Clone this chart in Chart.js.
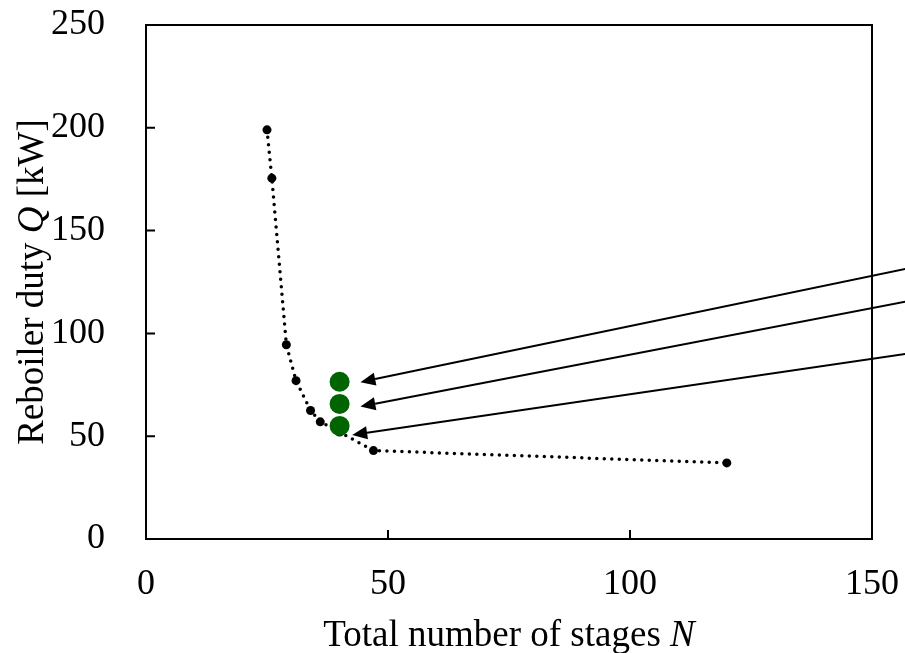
<!DOCTYPE html>
<html>
<head>
<meta charset="utf-8">
<script src="https://cdn.jsdelivr.net/npm/chart.js@4/dist/chart.umd.min.js"></script>
<style>
  html, body { margin: 0; padding: 0; background: #fff; }
  #wrap { width: 905px; height: 653px; }
</style>
</head>
<body>
<div id="wrap"><canvas id="stagesChart" width="905" height="653"></canvas></div>
<script>
// Reboiler duty vs total number of stages
const stagesN = [25, 26, 29, 31, 34, 36, 40, 47, 120];
const dutyQ   = [199, 175.5, 94.5, 77, 62.5, 57, 52, 43, 37];

// Selected designs (green)
const selectedN = [40, 40, 40];
const selectedQ = [76.5, 65.7, 55];

// Arrow tails / heads, in axis units
const arrowTailN = [157, 157, 157];
const arrowTailQ = [131.4, 115.5, 90];
const arrowHeadN = [44.3, 44.3, 42.6];
const arrowHeadQ = [76.3, 64.4, 50.6];

const xTicks = [0, 50, 100, 150];
const yTicks = [0, 50, 100, 150, 200, 250];

const FONT = '"Liberation Serif", "Times New Roman", serif';
const ctx = document.getElementById('stagesChart').getContext('2d');

// frame, inward ticks, mixed-style axis titles and arrows
const framePlugin = {
  id: 'frame',
  afterDatasetsDraw(chart) {
    const c = chart.ctx;
    const a = chart.chartArea;
    const xs = chart.scales.x, ys = chart.scales.y;
    c.save();
    c.strokeStyle = '#000';
    c.lineWidth = 2;
    c.strokeRect(a.left, a.top, a.right - a.left, a.bottom - a.top);
    c.beginPath();
    xTicks.forEach(v => {
      const px = xs.getPixelForValue(v);
      c.moveTo(px, a.bottom); c.lineTo(px, a.bottom - 9);
    });
    yTicks.forEach(v => {
      const py = ys.getPixelForValue(v);
      c.moveTo(a.left, py); c.lineTo(a.left + 9, py);
    });
    c.stroke();

    // arrows
    c.fillStyle = '#000';
    for (let i = 0; i < arrowTailN.length; i++) {
      const x0 = xs.getPixelForValue(arrowTailN[i]), y0 = ys.getPixelForValue(arrowTailQ[i]);
      const x1 = xs.getPixelForValue(arrowHeadN[i]), y1 = ys.getPixelForValue(arrowHeadQ[i]);
      const ang = Math.atan2(y1 - y0, x1 - x0);
      const len = 15, half = 6.5;
      const bx = x1 - len * Math.cos(ang), by = y1 - len * Math.sin(ang);
      c.beginPath();
      c.moveTo(x0, y0); c.lineTo(bx, by);
      c.stroke();
      c.beginPath();
      c.moveTo(x1, y1);
      c.lineTo(bx + half * Math.sin(ang), by - half * Math.cos(ang));
      c.lineTo(bx - half * Math.sin(ang), by + half * Math.cos(ang));
      c.closePath();
      c.fill();
    }

    // titles
    c.textBaseline = 'alphabetic';
    const drawParts = (parts, cx, cy) => {
      let w = 0;
      parts.forEach(p => { c.font = p.f; w += c.measureText(p.t).width; });
      let x = cx - w / 2;
      parts.forEach(p => { c.font = p.f; c.fillText(p.t, x, cy); x += c.measureText(p.t).width; });
    };
    const reg = '37px ' + FONT, ita = 'italic 37px ' + FONT;
    drawParts([{ t: 'Total number of stages ', f: reg }, { t: 'N', f: ita }],
      (a.left + a.right) / 2, 646);
    c.translate(43, (a.top + a.bottom) / 2);
    c.rotate(-Math.PI / 2);
    drawParts([{ t: 'Reboiler duty ', f: reg }, { t: 'Q', f: ita }, { t: ' [kW]', f: reg }], 0, 0);
    c.restore();
  }
};

const stagesChart = new Chart(ctx, {
  type: 'scatter',
  data: {
    datasets: [{
      data: stagesN.map((n, i) => ({ x: n, y: dutyQ[i] })),
      showLine: true,
      borderColor: '#000',
      borderWidth: 3.5,
      borderDash: [0, 7.5],
      borderCapStyle: 'round',
      backgroundColor: '#000',
      pointRadius: 4.5,
      pointBorderWidth: 0,
      order: 2
    }, {
      data: selectedN.map((n, i) => ({ x: n, y: selectedQ[i] })),
      backgroundColor: '#006400',
      pointRadius: 10,
      pointBorderWidth: 0,
      order: 1
    }]
  },
  options: {
    responsive: false,
    animation: false,
    layout: { padding: { top: 25, right: 33, left: 0, bottom: 0 } },
    plugins: { legend: { display: false }, tooltip: { enabled: false } },
    scales: {
      x: {
        type: 'linear', min: 0, max: 150,
        afterBuildTicks: s => { s.ticks = xTicks.map(v => ({ value: v })); },
        afterFit: s => { s.height = 114; s.paddingLeft = 0; s.paddingRight = 0; },
        grid: { display: false }, border: { display: false },
        ticks: { color: '#000', padding: 16, maxRotation: 0, font: { family: FONT, size: 36 } }
      },
      y: {
        type: 'linear', min: 0, max: 250,
        afterBuildTicks: s => { s.ticks = yTicks.map(v => ({ value: v })); },
        afterFit: s => { s.width = 146; s.paddingTop = 0; s.paddingBottom = 0; },
        grid: { display: false }, border: { display: false },
        ticks: { color: '#000', padding: 33, font: { family: FONT, size: 36 } }
      }
    }
  },
  plugins: [framePlugin]
});
</script>
</body>
</html>
